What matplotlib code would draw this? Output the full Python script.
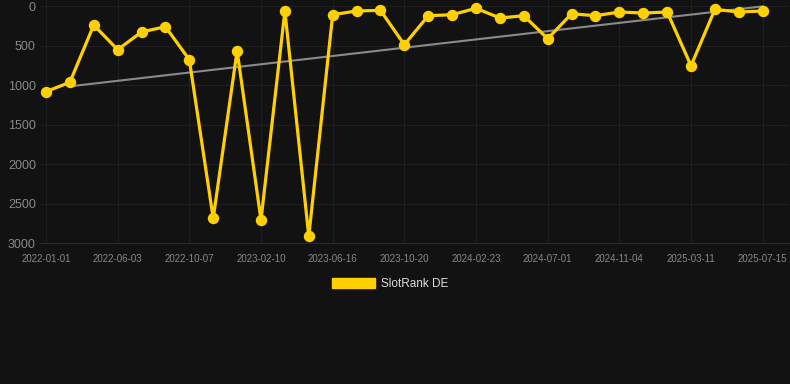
import matplotlib
matplotlib.use("Agg")
import matplotlib.pyplot as plt
from matplotlib.patches import Patch

plt.rcParams["font.family"] = ["Liberation Sans", "DejaVu Sans"]

dates = ["2022-01-01", "2022-06-03", "2022-10-07", "2023-02-10", "2023-06-16",
         "2023-10-20", "2024-02-23", "2024-07-01", "2024-11-04", "2025-03-11", "2025-07-15"]
ranks = [1080, 962, 237, 549, 325, 258, 676, 2684, 562, 2705, 59, 2911, 106, 59, 51,
         486, 119, 106, 25, 148, 119, 410, 94, 119, 72, 85, 72, 752, 38, 72, 59]
trend_idx = [1, 30]
trend_vals = [1013, 0]
yticks = [0, 500, 1000, 1500, 2000, 2500, 3000]
series_name = "SlotRank DE"

bg = "#121212"
gold = "#FFD000"

fig = plt.figure(figsize=(7.9, 3.84), dpi=100, facecolor=bg)
ax = fig.add_axes([40/790, 1 - 243.3/384, 749/790, 243.3/384], facecolor=bg)

x = list(range(len(ranks)))
ax.plot(trend_idx, trend_vals, color="#8a8a8a", lw=1.5, zorder=2)
ax.plot(x, ranks, color=gold, lw=2.3, marker="o", ms=7.2, zorder=3)

ax.set_ylim(3000, -80)
ax.set_xlim(-0.25, 31.1)
ax.set_yticks(yticks)
ax.set_yticklabels([str(v) for v in yticks])
ax.set_xticks(list(range(0, len(ranks), 3)))
ax.set_xticklabels(dates)

ax.grid(True, color="#1f1f1f", lw=0.8)
ax.set_axisbelow(True)
for s in ["top", "right", "left"]:
    ax.spines[s].set_visible(False)
ax.spines["bottom"].set_color("#2a2a2a")
ax.tick_params(axis="both", length=0, colors="#888888")
ax.tick_params(axis="y", labelsize=9, pad=3)
ax.tick_params(axis="x", labelsize=7, pad=8)

handle = Patch(facecolor=gold, edgecolor=gold)
leg = fig.legend([handle], [series_name], loc="center", bbox_to_anchor=(390/790, 1 - 284/384),
                 frameon=False, fontsize=8.5, handlelength=3.6, handleheight=1.0,
                 handletextpad=0.5, labelcolor="#dddddd")

fig.savefig("out.png", dpi=100, facecolor=bg)
